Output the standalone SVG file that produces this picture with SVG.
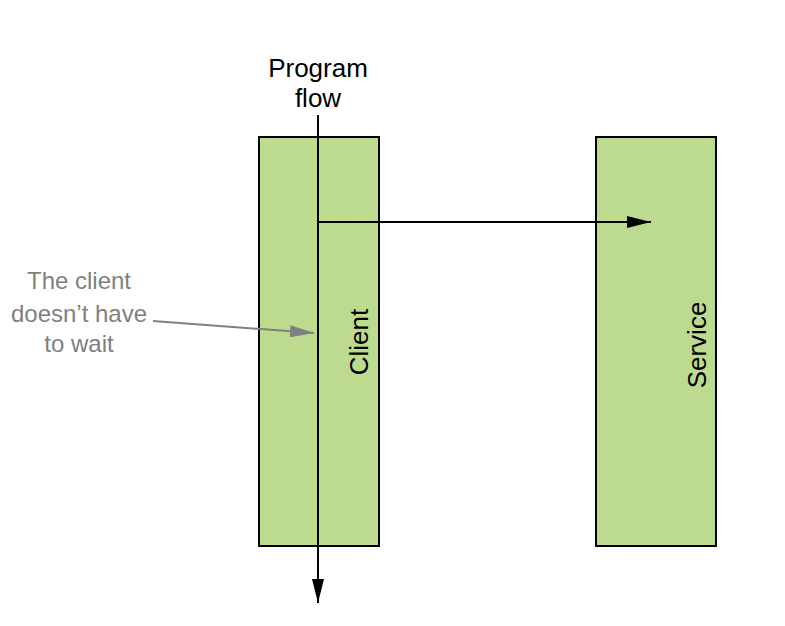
<svg xmlns="http://www.w3.org/2000/svg" width="785" height="626" viewBox="0 0 785 626">
<style>
.box{fill:#bddb8f;stroke:#000;stroke-width:2}
.t{font-family:"Liberation Sans",Arial,sans-serif;font-size:26px;fill:#000;text-anchor:middle}
.g{font-family:"Liberation Sans",Arial,sans-serif;font-size:24px;fill:#7f7f7f;text-anchor:middle}
</style>
<defs>
<marker id="ah" markerWidth="24" markerHeight="12" refX="24" refY="6" orient="auto" markerUnits="userSpaceOnUse"><path d="M0,0 L24,6 L0,12 Z" fill="#000"/></marker>
<marker id="ahg" markerWidth="24" markerHeight="12" refX="24" refY="6" orient="auto" markerUnits="userSpaceOnUse"><path d="M0,0 L24,6 L0,12 Z" fill="#808080"/></marker>
</defs>
<rect width="785" height="626" fill="#fff"/>
<g id="client"><rect class="box" x="259" y="137" width="120" height="409"/><text class="t" transform="translate(368,342) rotate(-90)">Client</text></g>
<g id="service"><rect class="box" x="596" y="137" width="120" height="409"/><text class="t" transform="translate(706,345) rotate(-90)">Service</text></g>
<g id="program-flow"><text class="t" x="318" y="77">Program</text><text class="t" x="318" y="107">flow</text></g>
<g id="note"><text class="g" x="79" y="289">The client</text><text class="g" x="79" y="322">doesn’t have</text><text class="g" x="79" y="352">to wait</text></g>
<g id="connectors">
<line x1="318" y1="115" x2="318" y2="603" stroke="#000" stroke-width="2" marker-end="url(#ah)"/>
<line x1="318" y1="222" x2="651" y2="222" stroke="#000" stroke-width="2" marker-end="url(#ah)"/>
<line x1="153" y1="321" x2="314" y2="333" stroke="#808080" stroke-width="2" marker-end="url(#ahg)"/>
</g>
</svg>
